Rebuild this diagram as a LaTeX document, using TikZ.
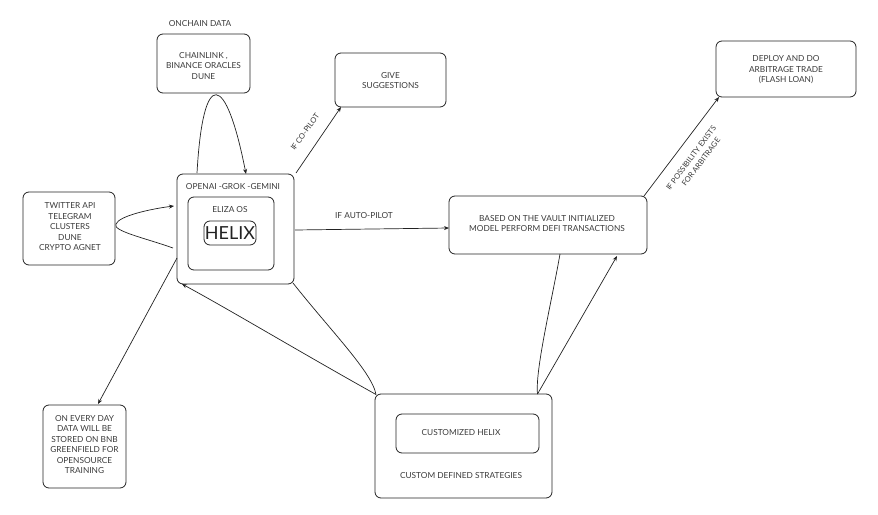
\documentclass[tikz,border=0pt]{standalone}
\usepackage{fontspec}
\setmainfont{Lato}
\usetikzlibrary{arrows.meta}
\definecolor{ink}{HTML}{222222}
\definecolor{txt}{HTML}{3A3A3A}
\tikzset{
  box/.style={draw=ink, line width=0.8pt, rounded corners=6pt, inner sep=0pt},
  lbl/.style={text=txt, font=\fontsize{8.3}{10.5}\selectfont, align=center, inner sep=0pt},
  small/.style={text=txt, font=\fontsize{7.6}{9}\selectfont, align=center, inner sep=0pt},
  conn/.style={draw=ink, line width=0.7pt},
  arr/.style={conn, -{Stealth[length=5pt,width=4pt]}}
}
\begin{document}
\begin{tikzpicture}[x=1pt,y=-1pt]
\useasboundingbox (0,0) rectangle (878,514);
% boxes
\node[box, minimum width=93, minimum height=59] (onchain) at (203.5,63.5) {};
\node[lbl] (onchaint) at (203.5,66) {CHAINLINK ,\\BINANCE ORACLES\\DUNE};
\node[lbl] (onchainlbl) at (200,24) {ONCHAIN DATA};

\node[box, minimum width=111, minimum height=54] (give) at (390.5,80) {};
\node[lbl] (givet) at (390.5,80.5) {GIVE\\SUGGESTIONS};

\node[box, minimum width=117, minimum height=110] (main) at (235.5,229) {};
\node[lbl] (maint) at (233,187) {OPENAI -GROK -GEMINI};
\node[box, minimum width=86, minimum height=73] (eliza) at (231,233.5) {};
\node[lbl] (elizat) at (230,210) {ELIZA OS};
\node[box, minimum width=52, minimum height=24] (helix) at (230,233) {};
\node[text=ink, font=\fontsize{18}{18}\selectfont, inner sep=0pt] (helixt) at (230,233.5) {HELIX};

\node[box, minimum width=92, minimum height=73] (tw) at (69,228.5) {};
\node[lbl] (twt) at (70,227) {TWITTER API\\TELEGRAM\\CLUSTERS\\DUNE\\CRYPTO AGNET};

\node[box, minimum width=198, minimum height=58] (based) at (548,225) {};
\node[lbl] (basedt) at (547,223.5) {BASED ON THE VAULT INITIALIZED\\MODEL PERFORM DEFI TRANSACTIONS};

\node[box, minimum width=140, minimum height=56] (deploy) at (786,69) {};
\node[lbl] (deployt) at (786,70) {DEPLOY AND DO\\ARBITRAGE TRADE\\(FLASH LOAN)};

\node[box, minimum width=177, minimum height=104] (custom) at (463.5,446) {};
\node[box, minimum width=143, minimum height=39] (chelix) at (467.5,433.5) {};
\node[lbl] (chelixt) at (461,433) {CUSTOMIZED HELIX};
\node[lbl] (customt) at (461,476) {CUSTOM DEFINED STRATEGIES};

\node[box, minimum width=83, minimum height=83] (store) at (84.5,446.5) {};
\node[lbl] (storet) at (84.5,444.5) {ON EVERY DAY\\DATA WILL BE\\STORED ON BNB\\GREENFIELD FOR\\OPENSOURCE\\TRAINING};

% connector end points
\coordinate (mTopL) at (197,173);
\coordinate (mTopR) at (246,174);
\coordinate (mLeftA) at (173,248);
\coordinate (mLeftB) at (174,206);
\coordinate (twTip) at (116,224);
\coordinate (mNE) at (296,173);
\coordinate (gSW) at (341,107);
\coordinate (mE) at (295,230);
\coordinate (bW) at (449,228);
\coordinate (mSW) at (177,258);
\coordinate (sN) at (98,404);
\coordinate (cNW) at (376,394.5);
\coordinate (mBL) at (182,284);
\coordinate (mBR) at (293,283);
\coordinate (bS1) at (560,254);
\coordinate (bS2) at (617,256);
\coordinate (cNE) at (537.5,394);
\coordinate (bNE) at (644,196);
\coordinate (dSW) at (719,97);

% connectors
\draw[arr] (mTopL) .. controls (203,66) and (226,72) .. (mTopR);
\draw[arr] (mLeftA) .. controls (145,238) and (112,231) .. (twTip) .. controls (119,216) and (150,209) .. (mLeftB);
\draw[arr] (mNE) -- (gSW);
\node[small, rotate=54] (coplt) at (305,132) {IF CO-PILOT};
\draw[arr] (mE) -- (bW);
\node[lbl] (autolt) at (364,216) {IF AUTO-PILOT};
\draw[arr] (mSW) -- (sN);
\draw[arr] (cNW) .. controls (300,352) and (230,310) .. (mBL);
\draw[conn] (mBR) .. controls (330,330) and (372,372) .. (cNW);
\draw[conn] (bS1) .. controls (552,300) and (535,370) .. (cNE);
\draw[arr] (cNE) -- (bS2);
\draw[arr] (bNE) -- (dSW);
\node[small, rotate=53] (arbt1) at (691,158) {IF POSSIBILITY EXISTS};
\node[small, rotate=53] (arbt2) at (701,162) {FOR ARBITRAGE};
\end{tikzpicture}
\end{document}
